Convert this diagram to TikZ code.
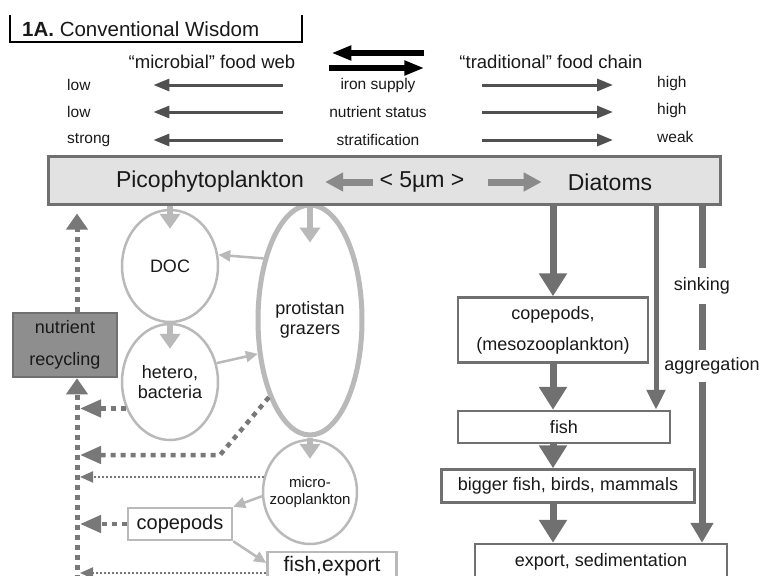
\documentclass[tikz,border=0pt]{standalone}
\usepackage{fontspec}
\setmainfont{Liberation Sans}
\usetikzlibrary{arrows.meta,shapes.geometric}
\definecolor{dkgray}{RGB}{112,112,112}
\definecolor{rowgray}{RGB}{80,80,80}
\definecolor{ltgray}{RGB}{185,185,185}
\definecolor{boxfill}{RGB}{226,226,226}
\definecolor{recfill}{RGB}{142,142,142}
\definecolor{dotgray}{RGB}{120,120,120}
\definecolor{midgray}{RGB}{138,138,138}
\definecolor{txt}{RGB}{25,25,25}

\begin{document}
\begin{tikzpicture}[x=1pt,y=-1pt,text=txt,
  lbl/.style={font=\fontsize{15.5}{18}\selectfont,inner sep=0pt},
  headlbl/.style={font=\fontsize{18.5}{22}\selectfont,inner sep=0pt},
  biglbl/.style={font=\fontsize{23}{27}\selectfont,inner sep=0pt},
  midlbl/.style={lbl,minimum width=110pt},
  leftlbl/.style={lbl,anchor=west,text width=86pt,align=left},
  rightlbl/.style={lbl,anchor=west},
  rowarr/.style={draw=rowgray,line width=3pt,-{Triangle[length=16pt,width=12pt]}},
  blkarr/.style={draw=black,line width=6pt,-{Triangle[length=20pt,width=14pt]}},
  midarr/.style={draw=midgray,line width=7pt,-{Triangle[length=18pt,width=18pt]}},
  cell/.style={ellipse,draw=ltgray,line width=2.5pt,fill=white,inner sep=0pt,align=center,font=\fontsize{18}{20}\selectfont},
  lbox/.style={draw=ltgray,line width=2.5pt,fill=white,inner sep=0pt,font=\fontsize{20}{24}\selectfont},
  lgarr/.style={draw=ltgray,line width=6pt,-{Triangle[length=15pt,width=20pt]}},
  ltarr/.style={draw=ltgray,line width=2.5pt,-{Triangle[length=12pt,width=11pt]}},
  flowbox/.style={draw=dkgray,line width=2.5pt,fill=white,inner sep=0pt,align=center,font=\fontsize{18}{31}\selectfont},
  flowarr/.style={draw=dkgray,line width=7pt,-{Triangle[length=23pt,width=27pt]}},
  thinflow/.style={draw=dkgray,line width=5pt,-{Triangle[length=20pt,width=18pt]}},
  sinkline/.style={draw=dkgray,line width=7pt},
  vdot/.style={draw=dotgray,line width=5pt,dash pattern=on 5pt off 5pt,-{Triangle[length=16pt,width=21pt]}},
  hdash/.style={draw=dotgray,line width=4.5pt,dash pattern=on 5pt off 5pt,shorten >=3pt,-{Triangle[length=21pt,width=17pt]}},
  hdot/.style={draw=dotgray,line width=2pt,dash pattern=on 2pt off 2pt,shorten >=3pt,-{Triangle[length=13pt,width=11pt]}}]
\clip (0,0) rectangle (761,576);

\node[anchor=west,inner sep=0pt,font=\fontsize{20.5}{24}\selectfont] (ttl) at (22,29) {\textbf{1A.} Conventional Wisdom};
\draw[line width=1.5pt] (10,15) |- (302,42) -- (302,15);

\node[headlbl] (mic) at (212,62) {“microbial” food web};
\node[headlbl] (trad) at (551,62) {“traditional” food chain};
\draw[blkarr,shorten <=35pt,shorten >=36pt] ([yshift=9pt]trad.west) -- ([yshift=9pt]mic.east);
\draw[blkarr,shorten <=34pt,shorten >=35pt] ([yshift=-6pt]mic.east) -- ([yshift=-6pt]trad.west);

\node[midlbl] (iron) at (378,85) {iron supply};
\node[midlbl] (nutr) at (378,112) {nutrient status};
\node[midlbl] (strat) at (378,140) {stratification};
\node[leftlbl] (lowa) at (67,85) {low};
\node[leftlbl] (lowb) at (67,112) {low};
\node[leftlbl] (strong) at (67,140) {strong};
\node[rightlbl] (higha) at (657,83) {high};
\node[rightlbl] (highb) at (657,110) {high};
\node[rightlbl] (weak) at (657,137) {weak};
\draw[rowarr,shorten <=40pt] (iron.west) -- (lowa.east);
\draw[rowarr,shorten <=40pt] (nutr.west) -- (lowb.east);
\draw[rowarr,shorten <=40pt] (strat.west) -- (strong.east);
\draw[rowarr,shorten <=49pt,shorten >=44pt] (iron.east) -- (iron.east -| higha.west);
\draw[rowarr,shorten <=49pt,shorten >=44pt] (nutr.east) -- (nutr.east -| highb.west);
\draw[rowarr,shorten <=49pt,shorten >=44pt] (strat.east) -- (strat.east -| weak.west);

\node[cell,minimum width=96pt,minimum height=112pt] (doc) at (170,266) {DOC};
\node[cell,minimum width=96pt,minimum height=116pt] (het) at (170,382) {hetero,\\bacteria};
\node[cell,line width=5pt,minimum width=104pt,minimum height=230pt] (prot) at (310,320) {protistan\\grazers};
\node[cell,inner xsep=-12pt,minimum width=94pt,minimum height=104pt,font=\fontsize{15}{17}\selectfont] (micro) at (310,492) {micro-\\zooplankton};

\node[draw=dkgray,line width=3pt,fill=boxfill,minimum width=672pt,minimum height=48pt] (main) at (384,180) {};
\node[biglbl] (pico) at (210,182) {Picophytoplankton};
\node[biglbl] (size) at (422,182) {< 5µm >};
\node[biglbl] (diat) at (610,182) {Diatoms};
\draw[midarr,shorten <=6pt,shorten >=21pt] (size.west) -- (pico.east);
\draw[midarr,shorten <=23pt,shorten >=26pt] (size.east) -- (diat.west);

\node[draw=dkgray,line width=2.5pt,fill=recfill,inner sep=0pt,minimum width=104pt,minimum height=64pt,align=center,font=\fontsize{18}{32}\selectfont] (recyc) at (65,345) {nutrient\\recycling};
\node[lbox,minimum width=104pt,minimum height=32pt] (copL) at (180,524) {copepods};
\node[lbox,minimum width=129pt,minimum height=28pt,font=\fontsize{21}{24}\selectfont] (fishx) at (332,566) {fish,export};

\node[flowbox,minimum width=190pt,minimum height=65pt] (copR) at (553,330) {copepods,\\(mesozooplankton)};
\node[flowbox,minimum width=212pt,minimum height=32pt] (fish) at (564,427) {fish};
\node[flowbox,minimum width=253pt,minimum height=33pt] (big) at (568,486) {bigger fish, birds, mammals};
\node[flowbox,minimum width=252pt,minimum height=36pt] (expo) at (601,562) {export, sedimentation};
\node[inner sep=0pt,minimum height=36pt,font=\fontsize{18}{22}\selectfont] (sink) at (702,286) {sinking};
\node[inner sep=0pt,minimum height=32pt,font=\fontsize{18}{22}\selectfont] (aggr) at (712,366) {aggregation};

\draw[lgarr] (main.south -| doc) -- ([yshift=-20pt]doc.north);
\draw[lgarr] (main.south -| prot) -- ([yshift=-40pt]prot.north);
\draw[lgarr] (doc.south) -- ([yshift=-26pt]het.north);
\draw[lgarr] (prot.south) -- ([yshift=-20pt]micro.north);
\draw[ltarr] (prot.127) -- (doc.13);
\draw[ltarr] (het.22) -- (prot.213);
\draw[ltarr] (micro.185) -- (copL.north east);
\draw[ltarr] (copL.south east) -- ([yshift=3pt]fishx.west);

\coordinate (rx) at (77,0);
\coordinate (rbot) at (77,600);
\coordinate (kink) at (220,455);
\coordinate (fx) at ([yshift=-7pt]fishx.west);
\draw[vdot,shorten >=8pt] (recyc.north -| rx) -- (main.south -| rx);
\draw[vdot] (rbot) -- (recyc.south -| rx);
\draw[hdash] (het.211) -- (het.211 -| rx);
\draw[hdash] (prot.242) -- (kink) -- (kink -| rx);
\draw[hdot] (micro.162) -- (micro.162 -| rx);
\draw[hdash] (copL.west) -- (copL.west -| rx);
\draw[hdot] (fx) -- (fx -| rx);

\coordinate (tx) at (656,0);
\coordinate (sx) at (702,0);
\draw[flowarr] (main.south -| copR) -- (copR.north);
\draw[flowarr] (copR.south) -- (copR.south |- fish.north);
\draw[flowarr] (fish.south -| copR) -- (big.north -| copR);
\draw[flowarr] (big.south -| copR) -- (expo.north -| copR);
\draw[thinflow] (main.south -| tx) -- (fish.north -| tx);
\draw[sinkline] (main.south -| sx) -- (sink.north -| sx);
\draw[sinkline] (sink.south -| sx) -- (aggr.north -| sx);
\draw[sinkline,-{Triangle[length=20pt,width=22pt]}] (aggr.south -| sx) -- (expo.north -| sx);
\end{tikzpicture}
\end{document}
